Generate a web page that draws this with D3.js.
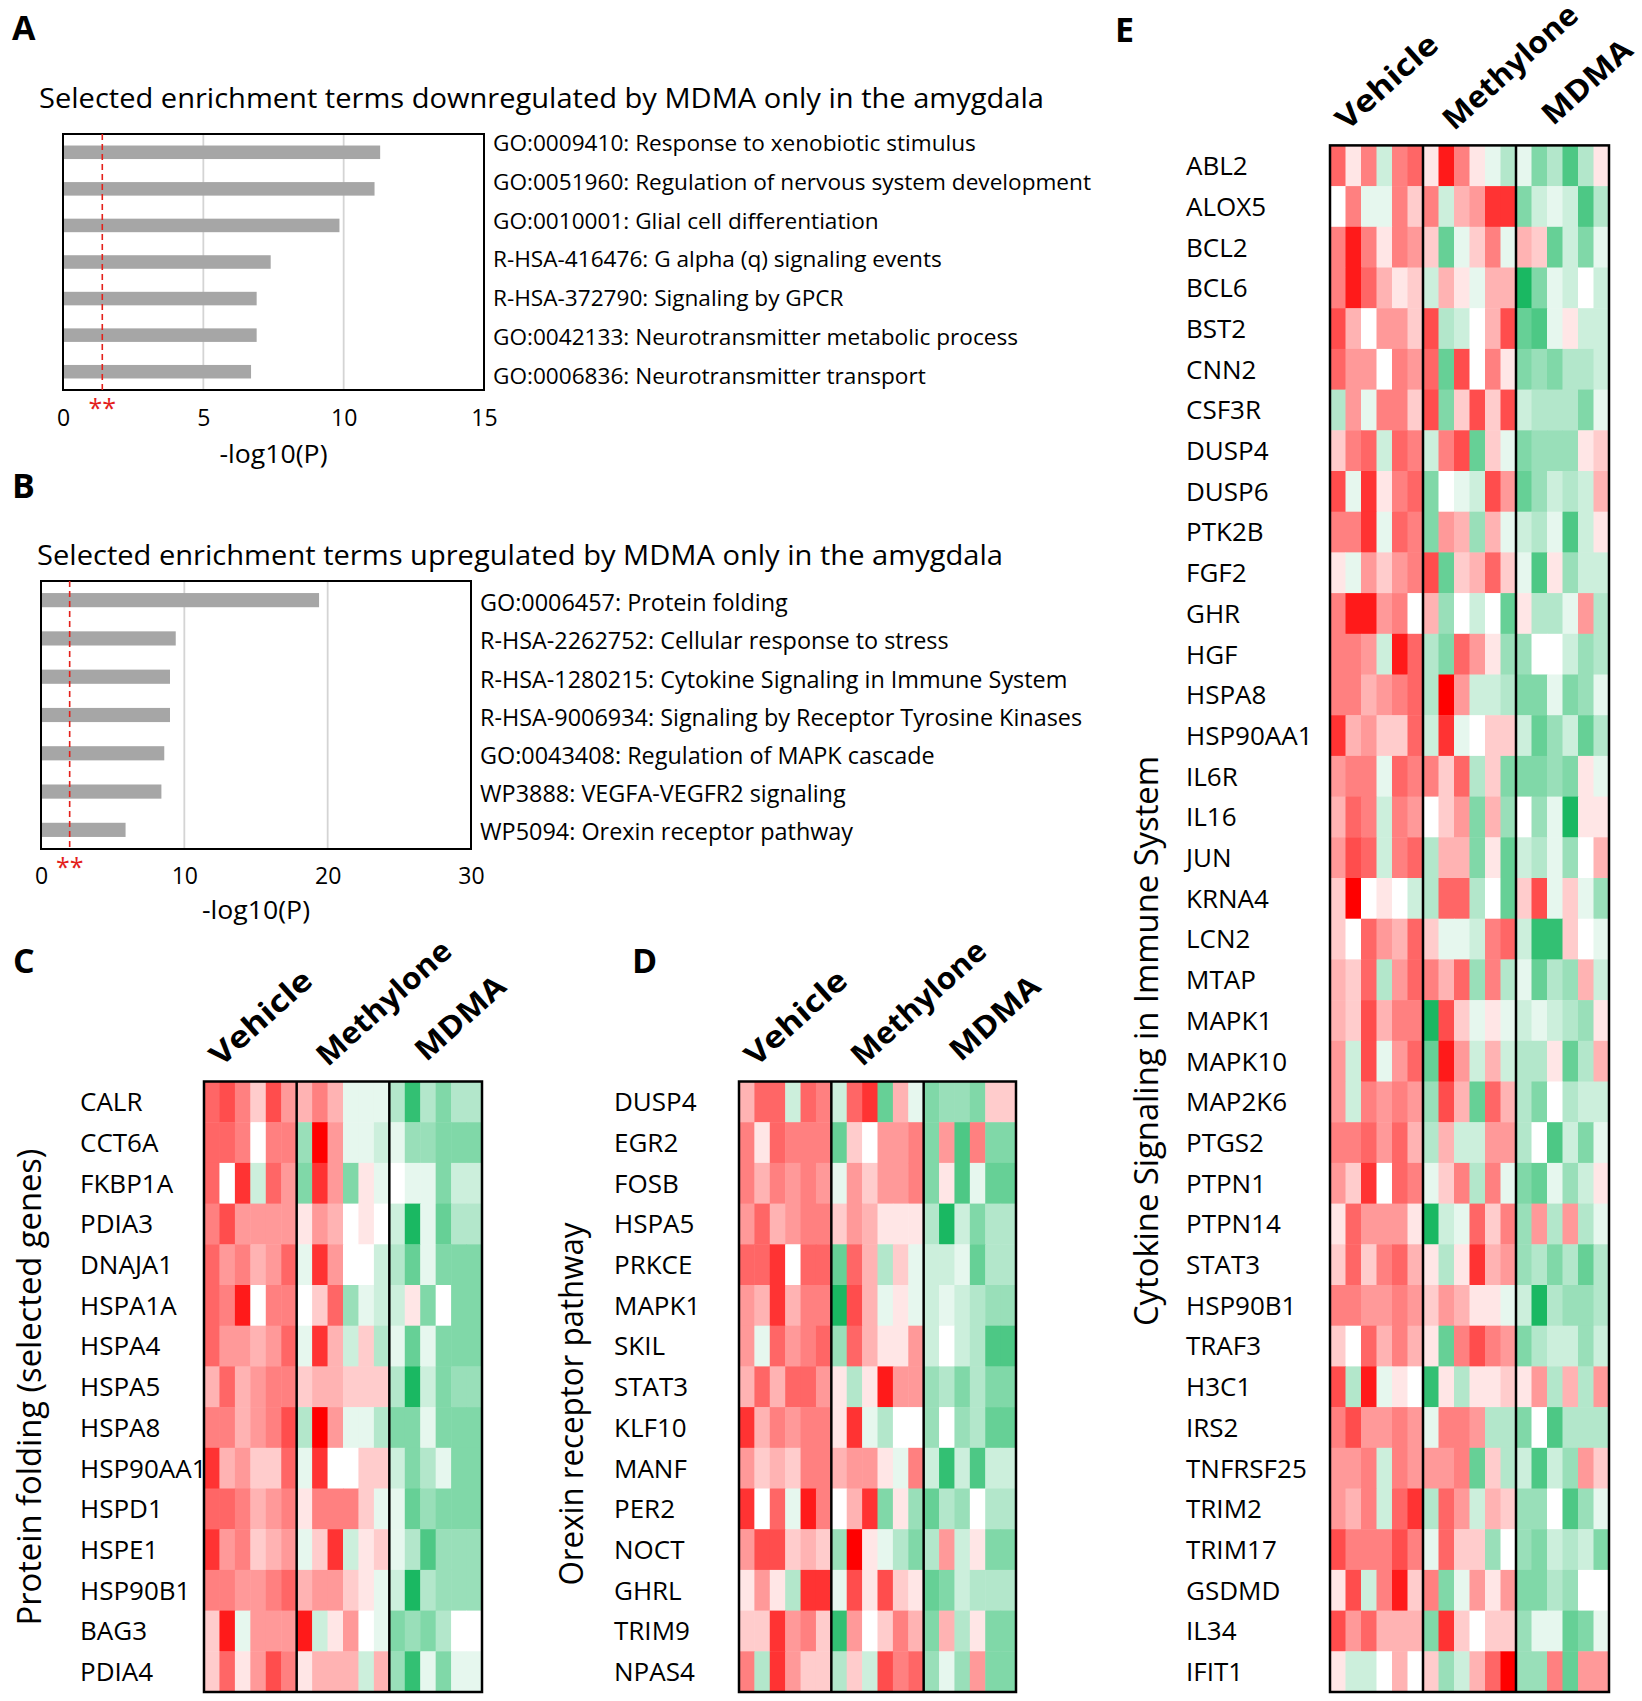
<!DOCTYPE html>
<html>
<head>
<meta charset="utf-8">
<script src="https://cdn.jsdelivr.net/npm/d3@7"></script>
<style>
  body { margin: 0; background: #fff; }
  text { font-family: "Open Sans", sans-serif; fill: #000; }
</style>
</head>
<body>
<svg id="fig"></svg>
<script>
// ---- data: bar panels ----
const termsA = [
  "GO:0009410: Response to xenobiotic stimulus",
  "GO:0051960: Regulation of nervous system development",
  "GO:0010001: Glial cell differentiation",
  "R-HSA-416476: G alpha (q) signaling events",
  "R-HSA-372790: Signaling by GPCR",
  "GO:0042133: Neurotransmitter metabolic process",
  "GO:0006836: Neurotransmitter transport"
];
const valuesA = [11.3, 11.1, 9.85, 7.4, 6.9, 6.9, 6.7];
const ticksA = [0, 5, 10, 15];
const thresholdA = 1.4;

const termsB = [
  "GO:0006457: Protein folding",
  "R-HSA-2262752: Cellular response to stress",
  "R-HSA-1280215: Cytokine Signaling in Immune System",
  "R-HSA-9006934: Signaling by Receptor Tyrosine Kinases",
  "GO:0043408: Regulation of MAPK cascade",
  "WP3888: VEGFA-VEGFR2 signaling",
  "WP5094: Orexin receptor pathway"
];
const valuesB = [19.4, 9.4, 9.0, 9.0, 8.6, 8.4, 5.9];
const ticksB = [0, 10, 20, 30];
const thresholdB = 2.0;

// ---- data: heatmaps (z-like scores, -10 green .. +10 red), 6 samples per group ----
const groups = ["Vehicle", "Methylone", "MDMA"];

const genesC = ["CALR","CCT6A","FKBP1A","PDIA3","DNAJA1","HSPA1A","HSPA4","HSPA5","HSPA8","HSP90AA1","HSPD1","HSPE1","HSP90B1","BAG3","PDIA4"];
const cellsC = [
  [6,7,5,2,7,4,   3,5,3,-1,-1,-1,  -3,-8,-3,-5,-3,-3],
  [6,6,5,0,5,5,  -4,10,4,-1,-1,-2, -1,-4,-4,-5,-5,-5],
  [6,0,8,-2,6,4, -5,8,4,-5,1,-1,    0,-1,-1,-5,-2,-2],
  [5,7,4,4,4,4,   1,4,3,0,1,0,     -2,-9,-1,-6,-3,-3],
  [6,4,5,3,4,6,  -1,8,4,0,0,-2,    -3,-6,-1,-5,-5,-5],
  [6,5,9,0,5,5,   0,2,6,-4,-1,-2,  -2,1,-5,0,-5,-5],
  [6,4,4,3,4,6,  -1,8,3,-2,2,-3,   -1,-6,-1,-5,-5,-5],
  [3,6,3,4,5,5,   2,3,3,2,2,2,     -3,-9,-2,-5,-4,-4],
  [5,5,3,4,5,7,  -3,10,4,-1,-1,-3, -5,-5,-1,-5,-5,-5],
  [8,3,4,2,2,6,  -1,8,0,0,2,2,     -2,-5,-3,-1,-5,-5],
  [6,6,5,3,4,5,   1,5,5,5,2,-1,    -1,-6,-4,-5,-5,-5],
  [8,4,5,2,3,4,  -1,2,8,-2,1,2,    -1,-3,-7,-4,-4,-4],
  [5,5,4,4,5,6,   3,4,4,2,1,-1,    -2,-9,-3,-4,-4,-4],
  [2,9,-1,4,4,4,  9,-2,1,4,0,-1,   -5,-4,-5,-3,0,0],
  [2,6,1,4,7,5,   1,3,3,3,-2,3,    -4,-8,-1,-5,-1,-1]
];

const genesD = ["DUSP4","EGR2","FOSB","HSPA5","PRKCE","MAPK1","SKIL","STAT3","KLF10","MANF","PER2","NOCT","GHRL","TRIM9","NPAS4"];
const cellsD = [
  [3,6,6,-2,6,5,  -2,6,8,-6,3,-1,  -5,-4,-4,-5,2,2],
  [5,1,6,5,5,5,  -6,2,0,4,4,5,     -5,4,-7,5,-5,-5],
  [5,3,5,4,5,4,  -1,4,2,4,4,5,     -5,1,-7,-1,-6,-6],
  [4,6,3,4,5,5,   2,4,3,1,1,1,     -3,-9,-2,-5,-3,-3],
  [6,6,8,0,6,6,  -6,6,3,-3,2,-1,   -2,-2,-1,-6,-3,-3],
  [4,3,8,3,5,5,  -9,7,3,-1,1,-1,   -2,-1,-2,-3,-4,-4],
  [4,-1,6,4,5,6, -4,6,3,1,1,4,     -2,0,-2,-3,-7,-7],
  [3,6,3,6,6,4,   1,-3,1,9,4,4,    -4,-3,-5,-3,-5,-5],
  [8,3,5,4,5,5,   1,8,-1,-3,0,0,   -4,0,-4,-3,-6,-6],
  [4,2,3,2,5,5,   3,4,4,1,-1,5,    -2,-8,-2,-7,-2,-2],
  [8,0,6,-1,9,5,  0,3,8,-5,1,-4,   -6,-3,-4,0,-3,-3],
  [4,7,7,2,3,2,  -4,10,1,-1,-3,-5, -3,4,-2,1,-5,-5],
  [1,4,1,-3,8,8, -1,7,1,7,2,1,     -6,-5,-2,-3,-3,-3],
  [2,2,8,4,5,2,  -8,4,0,2,5,3,     -5,3,-3,1,-5,-5],
  [5,-3,8,4,2,2, -3,2,-2,7,5,6,    -4,-1,-4,4,-5,-5]
];

const genesE = ["ABL2","ALOX5","BCL2","BCL6","BST2","CNN2","CSF3R","DUSP4","DUSP6","PTK2B","FGF2","GHR","HGF","HSPA8","HSP90AA1","IL6R","IL16","JUN","KRNA4","LCN2","MTAP","MAPK1","MAPK10","MAP2K6","PTGS2","PTPN1","PTPN14","STAT3","HSP90B1","TRAF3","H3C1","IRS2","TNFRSF25","TRIM2","TRIM17","GSDMD","IL34","IFIT1"];
const cellsE = [
  [6,1,5,-2,5,6,   1,9,5,1,-1,-3,   -1,-5,-3,-7,-3,1],
  [0,5,-1,-1,5,2,  5,-2,3,4,8,8,    -5,-2,-1,-2,-7,-3],
  [5,9,5,1,5,4,    2,-6,-1,2,5,-1,   3,2,-6,-2,-5,-1],
  [5,9,6,3,1,2,   -2,3,1,-1,3,3,    -9,-5,-1,-2,0,-2],
  [7,3,0,4,4,2,    7,-3,-2,0,3,7,   -6,-7,-1,1,-2,-2],
  [6,4,4,0,5,4,    6,-6,7,0,5,1,    -5,-4,-5,-3,-3,-2],
  [-3,4,-1,5,5,2,  7,-5,2,7,2,7,    -2,-3,-3,-3,-5,-1],
  [2,5,6,-2,6,5,  -2,5,7,-6,2,-1,   -5,-4,-4,-4,1,2],
  [7,-1,8,1,5,6,  -5,0,-1,-2,7,4,   -6,-4,-2,-3,-2,3],
  [5,5,8,-1,6,5,  -5,4,3,-4,3,-1,   -2,-3,-1,-7,-2,1],
  [1,-1,4,2,4,5,   7,-6,2,3,6,2,    -1,-7,1,-4,-2,-2],
  [5,9,9,4,5,0,    3,-4,0,-2,0,-6,   1,-3,-3,-1,4,-3],
  [5,5,4,-2,9,6,  -3,-5,6,4,1,-4,   -4,0,0,-2,-4,-3],
  [5,5,3,4,5,6,   -3,10,4,-2,-2,-3, -5,-5,-1,-5,-4,-1],
  [8,3,4,2,2,6,   -2,8,-1,0,2,2,    -2,-6,-4,-2,-6,-3],
  [4,5,5,-1,6,5,   5,2,6,-3,2,-5,   -5,-5,-4,-5,1,-1],
  [3,6,5,-2,5,4,   0,2,4,-5,3,-4,    0,-4,-1,-9,1,1],
  [4,7,6,-2,5,6,  -3,3,3,-5,1,-6,   -2,-3,-1,-4,0,3],
  [2,10,0,1,0,-2, -3,6,6,-3,0,-6,    2,7,-1,2,-1,-4],
  [2,0,6,4,3,6,    2,-1,-1,-2,5,6,  -2,-8,-8,2,0,-1],
  [3,2,6,-3,4,6,   5,3,6,-4,5,-3,   -1,-6,-3,-4,3,-2],
  [3,2,7,3,5,5,   -9,7,2,-1,1,-1,   -2,-1,-2,-3,-4,1],
  [4,-2,7,-1,4,6, -6,9,4,-2,3,-2,   -3,-3,1,-6,-3,3],
  [4,-2,5,4,5,4,  -4,7,3,-6,6,3,    -3,-5,0,-3,-2,-2],
  [5,5,6,4,6,3,   -3,3,-2,-2,4,4,   -3,0,-7,-2,-5,-1],
  [4,2,8,0,6,5,   -1,2,5,-3,5,-1,   -5,-6,-1,-4,-2,1],
  [1,6,4,4,4,1,   -9,-2,-1,6,2,5,   -4,4,-3,4,-3,-1],
  [2,6,2,5,6,3,    1,-3,1,8,3,4,    -4,-3,-5,-3,-6,-3],
  [5,5,4,4,5,4,    2,4,3,1,1,-1,    -2,-9,-3,-4,-4,-3],
  [2,0,6,3,5,3,    1,-6,5,7,5,4,    -5,-3,-2,-2,-4,-2],
  [7,-3,9,-1,1,0, -8,1,-3,1,1,2,     1,4,-3,3,-3,4],
  [5,7,4,4,5,4,   -1,5,5,4,-3,-3,   -5,0,-7,-3,-3,-3],
  [4,4,5,-2,5,4,   4,4,5,-6,2,-3,   -2,-7,-2,-4,4,2],
  [4,3,5,-2,6,8,  -3,6,4,-2,3,2,    -4,-4,0,-7,-4,-1],
  [7,5,5,5,7,5,   -1,6,2,2,-4,0,    -4,-5,-2,-3,-2,-5],
  [1,7,-2,5,9,2,   5,-5,-1,4,1,4,   -5,-5,-3,-4,0,0],
  [7,4,6,3,3,3,   -5,8,2,0,2,2,     -4,-1,-1,-6,-5,-1],
  [1,-2,-2,0,3,0,  2,-4,-2,3,6,10,  -4,-4,5,-6,4,4]
];

// ---- drawing ----
const W = 1642, H = 1701;
const svg = d3.select("#fig").attr("width", W).attr("height", H);

const color = d3.scaleLinear()
  .domain([-10, 0, 10])
  .range(["#00b050", "#ffffff", "#ff0000"])
  .clamp(true);

function panelLetter(letter, x, y) {
  svg.append("text")
    .attr("x", x).attr("y", y)
    .style("font-size", "34px")
    .style("font-weight", "bold")
    .text(letter);
}

// horizontal bar chart with term labels on the right
function barPanel(o) {
  const g = svg.append("g");
  const x = d3.scaleLinear().domain(o.domain).range([o.left, o.right]);
  const y = d3.scaleBand().domain(o.terms).range([o.top, o.bottom])
    .paddingInner(0.63).paddingOuter(0.315);
  const ly = d3.scalePoint().domain(o.terms).range(o.labelRange);

  g.append("text")
    .attr("x", o.titleX).attr("y", o.titleY)
    .attr("textLength", o.titleLen).attr("lengthAdjust", "spacingAndGlyphs")
    .style("font-size", "27px")
    .text(o.title);

  // gridlines
  g.selectAll(".grid")
    .data(o.ticks.slice(1, -1))
    .enter().append("line")
    .attr("x1", d => x(d)).attr("x2", d => x(d))
    .attr("y1", o.top).attr("y2", o.bottom)
    .attr("stroke", "#d4d4d4").attr("stroke-width", 1.8);

  g.selectAll(".bar")
    .data(o.values)
    .enter().append("rect")
    .attr("x", x(0))
    .attr("y", (d, i) => y(o.terms[i]))
    .attr("width", d => x(d) - x(0))
    .attr("height", y.bandwidth())
    .attr("fill", "#a6a6a6");

  g.append("rect")
    .attr("x", o.left).attr("y", o.top)
    .attr("width", o.right - o.left).attr("height", o.bottom - o.top)
    .attr("fill", "none").attr("stroke", "#000").attr("stroke-width", 2);

  // significance threshold
  g.append("line")
    .attr("x1", x(o.threshold)).attr("x2", x(o.threshold))
    .attr("y1", o.top).attr("y2", o.bottom)
    .attr("stroke", "#e3201b").attr("stroke-width", 1.6)
    .attr("stroke-dasharray", "6,4");
  g.append("text")
    .attr("x", x(o.threshold)).attr("y", o.bottom + 27)
    .attr("text-anchor", "middle")
    .style("font-size", "25px").style("fill", "#e3201b")
    .text("**");

  g.selectAll(".term")
    .data(o.terms)
    .enter().append("text")
    .attr("x", o.right + 9)
    .attr("y", d => ly(d))
    .attr("dy", "0.35em")
    .style("font-size", o.termSize + "px")
    .text(d => d);

  const axis = g.append("g")
    .attr("transform", `translate(0,${o.tickTop})`)
    .call(d3.axisBottom(x).tickValues(o.ticks).tickSize(0).tickPadding(0).tickFormat(d3.format("d")));
  axis.select(".domain").remove();
  axis.selectAll("text")
    .style("font-family", "'Open Sans', sans-serif")
    .style("font-size", "23px")
    .attr("fill", "#000");

  g.append("text")
    .attr("x", (o.left + o.right) / 2).attr("y", o.axisY)
    .attr("text-anchor", "middle")
    .attr("textLength", 108).attr("lengthAdjust", "spacingAndGlyphs")
    .style("font-size", "25px")
    .text("-log10(P)");
}

function heatmap(o) {
  const g = svg.append("g");
  const nCol = o.cells[0].length;
  const per = nCol / groups.length;
  const top = o.bottom - o.genes.length * o.rowH;
  const x = d3.scaleBand().domain(d3.range(nCol)).range([o.left, o.right]);
  const y = d3.scaleBand().domain(o.genes).range([top, o.bottom]);

  o.cells.forEach((row, r) => {
    g.selectAll(null)
      .data(row)
      .enter().append("rect")
      .attr("x", (d, c) => x(c))
      .attr("y", y(o.genes[r]))
      .attr("width", x.bandwidth() + 0.5)
      .attr("height", y.bandwidth() + 0.5)
      .attr("fill", d => color(d));
  });

  // group separators and frame
  g.selectAll(".sep")
    .data(d3.range(1, groups.length))
    .enter().append("line")
    .attr("x1", k => x(k * per)).attr("x2", k => x(k * per))
    .attr("y1", top).attr("y2", o.bottom)
    .attr("stroke", "#000").attr("stroke-width", 2.5);
  g.append("rect")
    .attr("x", o.left).attr("y", top)
    .attr("width", o.right - o.left).attr("height", o.bottom - top)
    .attr("fill", "none").attr("stroke", "#000").attr("stroke-width", 2.5);

  // gene labels
  g.selectAll(".gene")
    .data(o.genes)
    .enter().append("text")
    .attr("x", o.labelX)
    .attr("y", d => y(d) + y.bandwidth() / 2)
    .attr("dy", "0.36em")
    .style("font-size", "26px")
    .text(d => d);

  // rotated group headers
  const hdrOffset = [[17, -14], [31, -14], [37, -19]];
  const hdrLen = [126, 170, 110];
  groups.forEach((name, k) => {
    const hx = x(k * per) + hdrOffset[k][0];
    const hy = top + hdrOffset[k][1];
    g.append("text")
      .attr("transform", `translate(${hx},${hy}) rotate(-42)`)
      .attr("textLength", hdrLen[k]).attr("lengthAdjust", "spacingAndGlyphs")
      .style("font-size", "30px").style("font-weight", "bold")
      .text(name);
  });

  // vertical title
  g.append("text")
    .attr("transform", `translate(${o.titleX},${o.titleY}) rotate(-90)`)
    .attr("text-anchor", "middle")
    .attr("textLength", o.titleLen).attr("lengthAdjust", "spacingAndGlyphs")
    .style("font-size", "32px")
    .text(o.title);
}

panelLetter("A", 12, 40);
barPanel({
  terms: termsA, values: valuesA, ticks: ticksA, threshold: thresholdA,
  domain: [0, 15], left: 63, right: 484, top: 134, bottom: 390,
  labelRange: [143, 376], termSize: 22.6,
  title: "Selected enrichment terms downregulated by MDMA only in the amygdala",
  titleX: 39, titleY: 108, titleLen: 1005,
  tickTop: 410, axisY: 463
});

panelLetter("B", 12, 498);
barPanel({
  terms: termsB, values: valuesB, ticks: ticksB, threshold: thresholdB,
  domain: [0, 30], left: 41, right: 471, top: 581, bottom: 849,
  labelRange: [603, 832], termSize: 23.4,
  title: "Selected enrichment terms upregulated by MDMA only in the amygdala",
  titleX: 37, titleY: 565, titleLen: 966,
  tickTop: 868, axisY: 919
});

panelLetter("C", 13, 973);
heatmap({
  genes: genesC, cells: cellsC, left: 204, right: 482, bottom: 1692, rowH: 40.7,
  labelX: 80, title: "Protein folding  (selected genes)", titleX: 41, titleY: 1387, titleLen: 477
});

panelLetter("D", 632, 973);
heatmap({
  genes: genesD, cells: cellsD, left: 739, right: 1016, bottom: 1692, rowH: 40.7,
  labelX: 614, title: "Orexin receptor pathway", titleX: 583, titleY: 1404, titleLen: 363
});

panelLetter("E", 1115, 42);
heatmap({
  genes: genesE, cells: cellsE, left: 1330, right: 1609, bottom: 1692, rowH: 40.7,
  labelX: 1186, title: "Cytokine Signaling in Immune System", titleX: 1158, titleY: 1041, titleLen: 570
});
</script>
</body>
</html>
